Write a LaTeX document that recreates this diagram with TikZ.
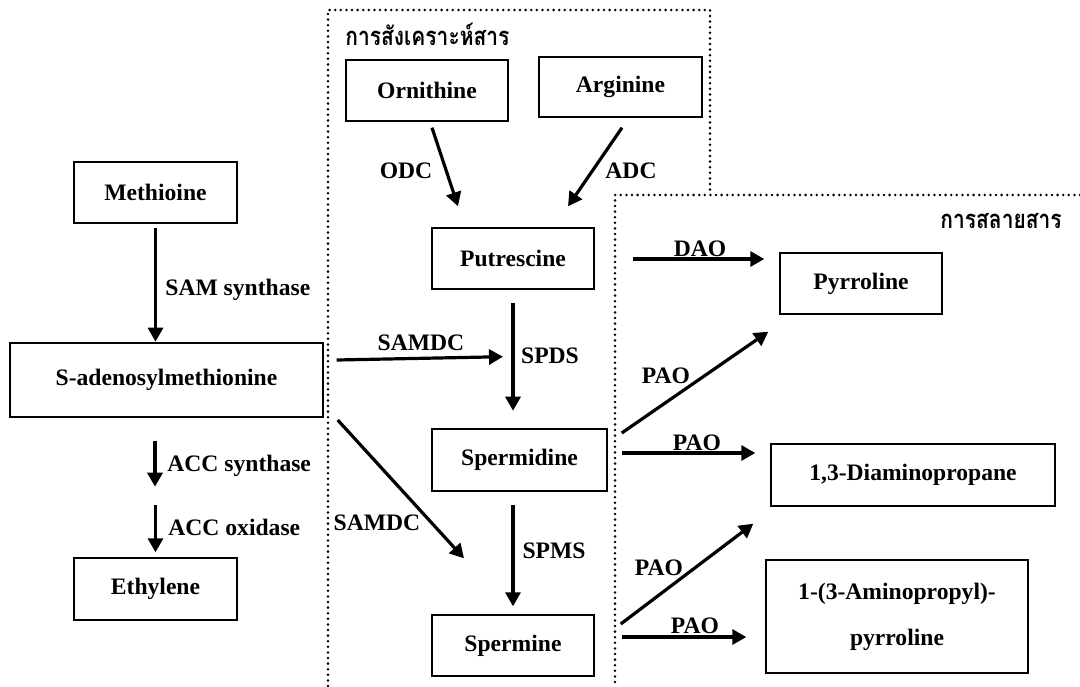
\documentclass[tikz,border=0pt]{standalone}
\usepackage{fontspec}
\setmainfont{Liberation Serif}
\newfontfamily\thaifont[Script=Thai]{Loma}
\usetikzlibrary{arrows.meta,calc}

\tikzset{
  box/.style={draw, line width=0.7pt, inner sep=0pt, minimum height=30.5pt},
  arr/.style={-{Triangle[length=7pt,width=7.5pt]}, line width=1.6pt},
  lab/.style={anchor=base, inner sep=0pt},
  zone/.style={line width=1.4pt, dash pattern=on 0pt off 2.8pt, line cap=round}
}
\newcommand{\thaitext}[1]{\scalebox{0.82}[1]{\thaifont\fontsize{12.8}{14}\selectfont #1}}

\begin{document}
\begin{tikzpicture}[x=0.5pt, y=-0.5pt, font=\fontsize{11.8}{14}\selectfont\bfseries]
\useasboundingbox (0,0) rectangle (1080,686);

% zones
\draw[zone] (328,686) -- (328,10) -- (710,10) -- (710,195);
\draw[zone] (1080,195) -- (615,195) -- (615,686);
\node[lab, anchor=base west] (tsyn) at (345,45) {\thaitext{การสังเคราะห์สาร}};
\node[lab, anchor=base west] (tdeg) at (940,228) {\thaitext{การสลายสาร}};

% ethylene side
\node[box, minimum width=81.5pt] (meth) at (155.5,192.5) {Methioine};
\node[box, minimum width=156.5pt, minimum height=37pt] (sam) at (166.5,380) {S-adenosylmethionine};
\node[box, minimum width=81.5pt, minimum height=31pt] (eth) at (155.5,589) {Ethylene};

% synthesis
\node[box, minimum width=81pt] (orn) at (427,90.5) {Ornithine};
\node[box, minimum width=81.5pt, minimum height=30pt] (arg) at (620.5,87) {Arginine};
\node[box, minimum width=81pt] (put) at (513,258.5) {Putrescine};
\node[box, minimum width=87.5pt, minimum height=31pt] (spd) at (519.5,460) {Spermidine};
\node[box, minimum width=81pt] (spm) at (513,645.5) {Spermine};

% degradation
\node[box, minimum width=81pt] (pyr) at (861,283.5) {Pyrroline};
\node[box, minimum width=142pt, minimum height=31pt] (dap) at (913,475) {1,3-Diaminopropane};
\node[box, minimum width=131pt, minimum height=56.5pt, align=center,
      font=\fontsize{11.8}{23}\selectfont\bfseries] (app) at (897,616.5) {1-(3-Aminopropyl)-\\pyrroline};

% arrows
\draw[arr] ($(meth.south)+(0,4)$) -- ($(meth.south)+(0,118)$);
\draw[arr] ($(sam.south)+(-11.5,23)$) -- ($(sam.south)+(-11.5,69)$);
\draw[arr] ($(eth.north)+(0,-52)$) -- ($(eth.north)+(0,-5)$);
\draw[arr] ($(orn.south)+(5,6)$) -- ($(put.north)+(-55,-21)$);
\draw[arr] ($(arg.south)+(1.5,10)$) -- ($(put.north)+(55,-21)$);
\draw[arr] ($(put.south)+(0,13)$) -- ($(put.south)+(0,121)$);
\draw[arr] ($(spm.north)+(0,-109)$) -- ($(spm.north)+(0,-8)$);
\draw[arr] ($(sam.east)+(13,-20)$) -- ($(put.south)+(-10,67)$);
\draw[arr] ($(sam.east)+(14,40)$) -- ($(spm.north)+(-49,-56)$);
\draw[arr] ($(put.east)+(38,0.5)$) -- ($(pyr.west)+(-15,-24.5)$);
\draw[arr] ($(spd.east)+(14,-27)$) -- ($(pyr.south west)+(-11,17)$);
\draw[arr] ($(spd.east)+(14,-7)$) -- ($(dap.west)+(-15,-22)$);
\draw[arr] ($(spm.east)+(26,-21.5)$) -- ($(dap.south west)+(-17,17)$);
\draw[arr] ($(spm.east)+(27,-8.5)$) -- ($(app.west)+(-19,20.5)$);

% enzyme labels
\node[lab, anchor=base west] (lsam) at (165,295) {SAM synthase};
\node[lab, anchor=base west] (lacs) at (167,471) {ACC synthase};
\node[lab, anchor=base west] (laco) at (168,535) {ACC oxidase};
\node[lab] (lodc) at (406,178) {ODC};
\node[lab] (ladc) at (631,178) {ADC};
\node[lab] (lsamdc) at (421,350) {SAMDC};
\node[lab] (lspds) at (550,363) {SPDS};
\node[lab] (lsamdcb) at (377,530) {SAMDC};
\node[lab] (lspms) at (554,558) {SPMS};
\node[lab] (ldao) at (700,256) {DAO};
\node[lab] (lpao) at (666,383) {PAO};
\node[lab] (lpaob) at (697,450) {PAO};
\node[lab] (lpaoc) at (659,575) {PAO};
\node[lab] (lpaod) at (695,633) {PAO};
\end{tikzpicture}
\end{document}
